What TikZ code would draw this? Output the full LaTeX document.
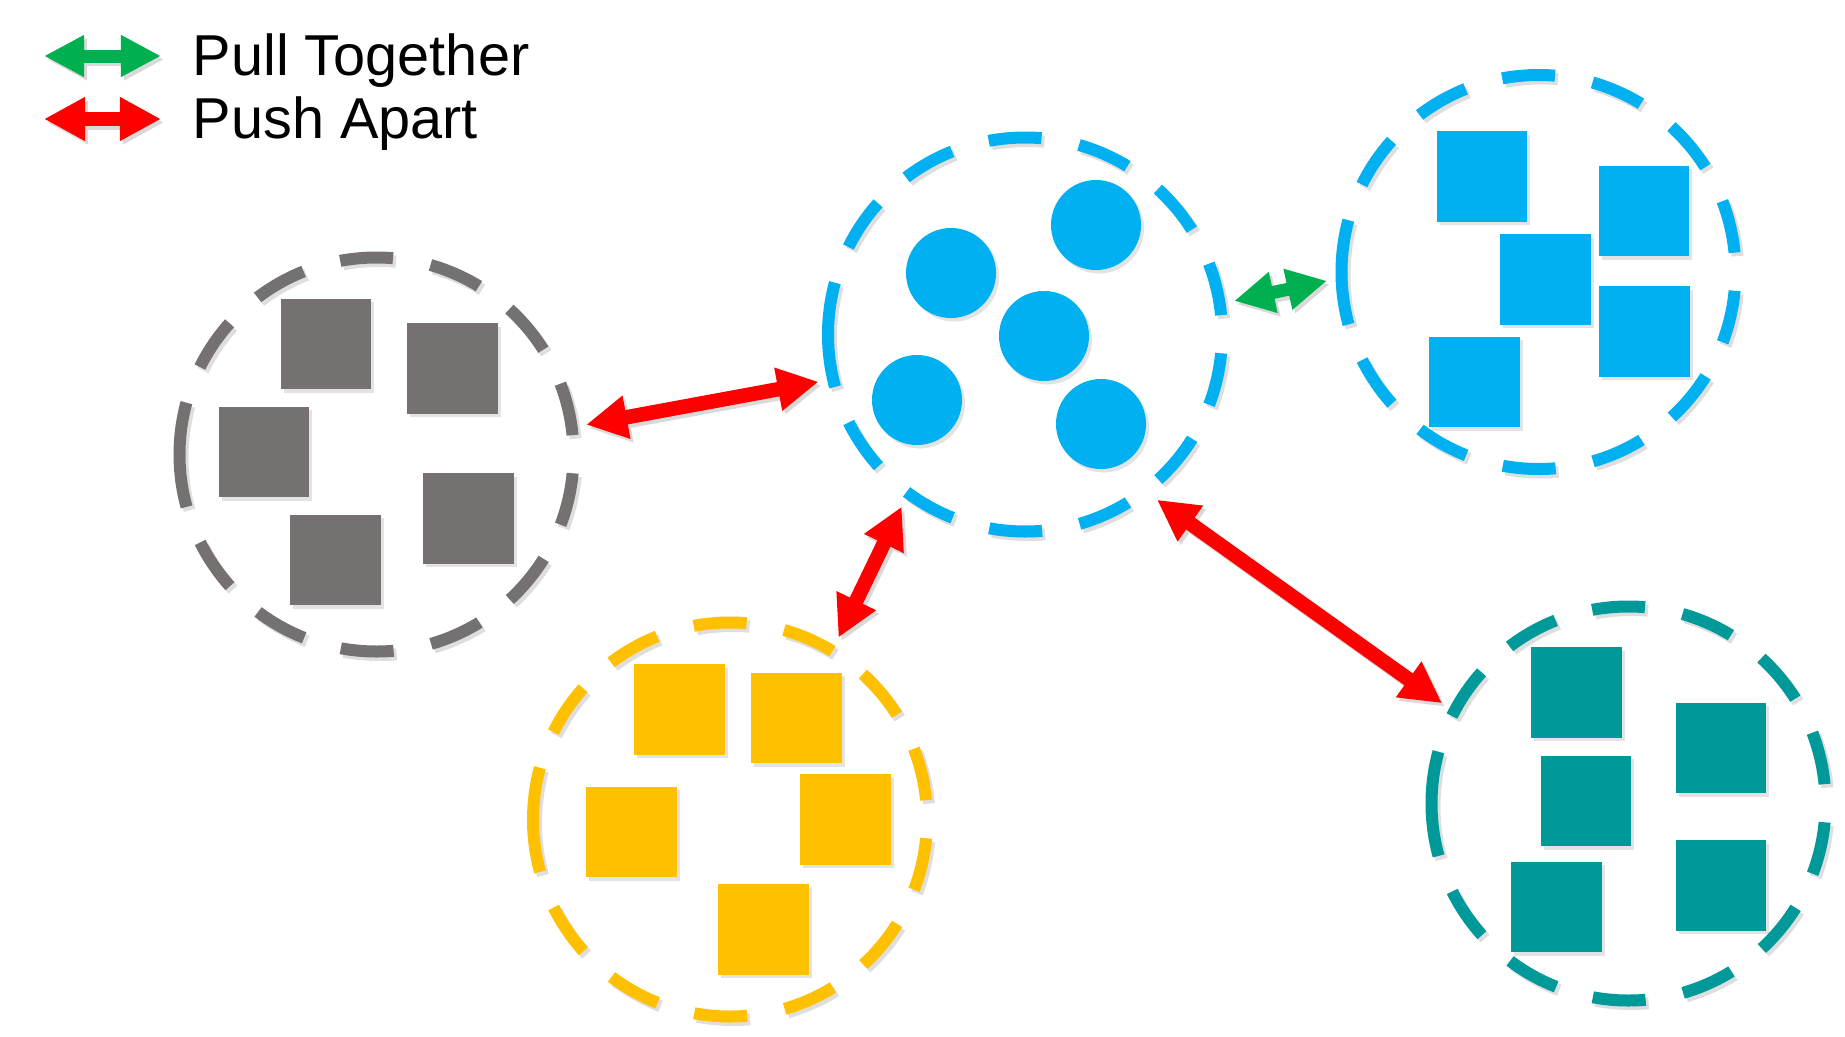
\documentclass[tikz,border=0pt]{standalone}
\usepackage{fontspec}
\setmainfont{Liberation Sans}
\usetikzlibrary{arrows.meta,shadows}
\definecolor{cgray}{RGB}{118,113,113}
\definecolor{cblue}{RGB}{0,176,240}
\definecolor{cyel}{RGB}{255,192,0}
\definecolor{cteal}{RGB}{0,153,153}
\definecolor{cgreen}{RGB}{0,176,80}
\definecolor{cred}{RGB}{255,0,0}

\begin{document}
\begin{tikzpicture}[x=0.01cm,y=-0.01cm,
 cl/.style={circle,minimum size=4.06cm,inner sep=0pt},
 ring/.style={draw=#1,line width=0.12cm,dash pattern=on 0.53cm off 0.3814cm,
   preaction={draw=black!13,line width=0.12cm,dash pattern=on 0.53cm off 0.3814cm,
     transform canvas={shift={(0.03cm,-0.035cm)}}}},
 sq/.style={fill=#1,minimum size=0.9cm,inner sep=0pt,
   drop shadow={shadow xshift=0.03cm,shadow yshift=-0.035cm,opacity=.22}},
 bdot/.style={circle,fill=cblue,minimum size=0.9cm,inner sep=0pt,
   drop shadow={shadow xshift=0.03cm,shadow yshift=-0.035cm,opacity=.22}},
 ashd/.style={preaction={draw=black!15,line width=#1,transform canvas={shift={(0.03cm,-0.035cm)}}}},
 pull/.style={draw=cgreen,line width=0.13cm,ashd=0.13cm,
   {Triangle[length=0.4cm,width=0.39cm]}-{Triangle[length=0.4cm,width=0.39cm]}},
 push/.style={draw=cred,line width=0.145cm,ashd=0.145cm,
   {Triangle[length=0.41cm,width=0.41cm]}-{Triangle[length=0.41cm,width=0.41cm]}},
 gap/.style={shorten <=0.08cm,shorten >=0.08cm},
 lbl/.style={anchor=base west,inner sep=0pt,font=\fontsize{16.4}{19}\selectfont}]
\useasboundingbox (0,0) rectangle (1845,1036);
% legend
\coordinate (g0) at (44,56); \coordinate (g1) at (161,56);
\coordinate (r0) at (44,119); \coordinate (r1) at (161,119);
\draw[pull] (g0) -- (g1);
\draw[push] (r0) -- (r1);
\node[lbl] (lp) at (192,75) {Pull Together};
\node[lbl] (la) at (192,138) {Push Apart};
% clusters: anchor (an), positive (ps), negatives (n1,n2,n3)
\node[cl] (n1) at (376.5,454.5) {};
\node[cl] (an) at (1025,334.5) {};
\node[cl] (ps) at (1538.5,272) {};
\node[cl] (n2) at (730,819.5) {};
\node[cl] (n3) at (1628.5,803.5) {};
\foreach \c/\k in {n1/cgray,an/cblue,ps/cblue,n2/cyel,n3/cteal}
  \draw[ring=\k] (\c.center) ++(-197,0) arc[start angle=180,end angle=-180,radius=197];
\foreach \n/\x/\y in {1/951/273,2/1096/225,3/1044/336,4/917/400,5/1101/424}
  \node[bdot] (d\n) at (\x,\y) {};
\foreach \n/\x/\y in {1/326/344,2/452.5/368.5,3/264/452,4/335.5/560,5/468.5/518.5}
  \node[sq=cgray] (g\n) at (\x,\y) {};
\foreach \n/\x/\y in {1/1482/176.5,2/1644/211,3/1545.5/279.5,4/1644.5/331.5,5/1474.5/382}
  \node[sq=cblue] (b\n) at (\x,\y) {};
\foreach \n/\x/\y in {1/679.5/709.5,2/796.5/718,3/631.5/832,4/845.5/819.5,5/763.5/929.5}
  \node[sq=cyel] (y\n) at (\x,\y) {};
\foreach \n/\x/\y in {1/1576.5/692.5,2/1721/748,3/1586/801,4/1556.5/907,5/1721/885.5}
  \node[sq=cteal] (t\n) at (\x,\y) {};
% connectors
\draw[push,gap] (n1.8) -- (an.193);
\draw[push,gap] (an.234) -- (n2.59);
\draw[push,gap] (an.308) -- (n3.152);
\draw[pull,gap] (an.9) -- (ps.182);
\end{tikzpicture}
\end{document}
